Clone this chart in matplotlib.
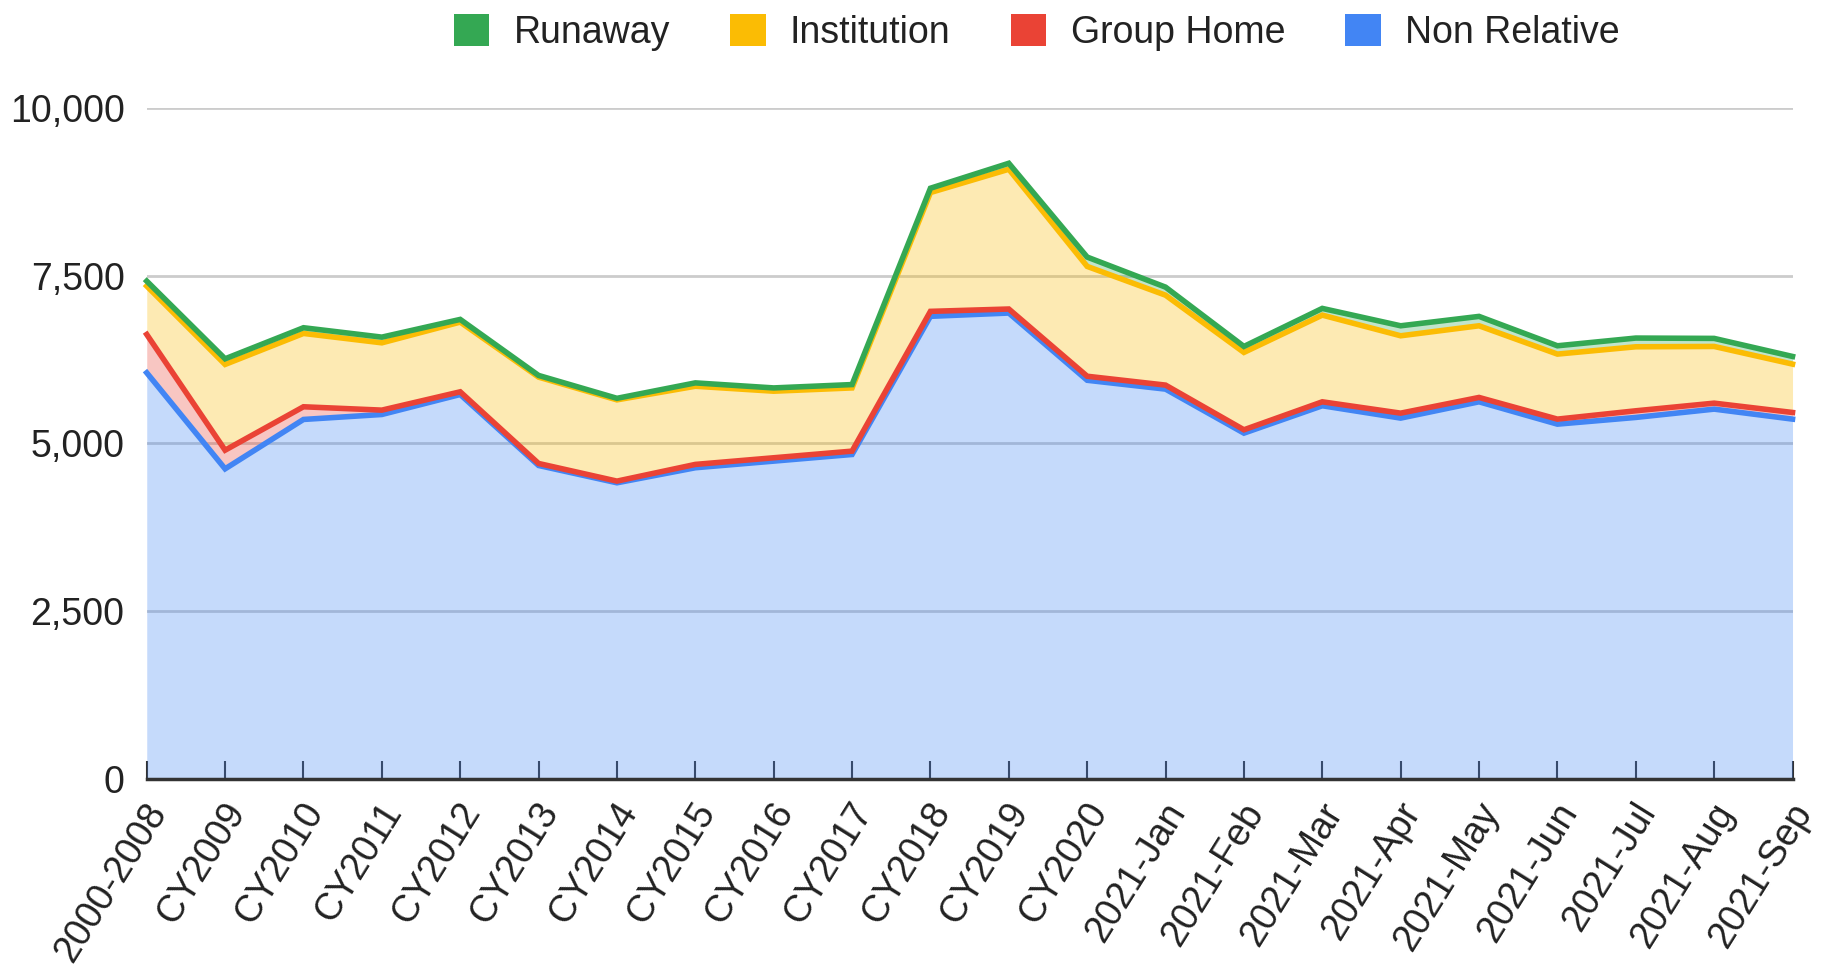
import numpy as np
from matplotlib import pyplot as plt
from matplotlib.patches import Patch
import matplotlib
import matplotlib.transforms as mtrans

matplotlib.rcParams['font.family'] = ['Liberation Sans', 'DejaVu Sans']

categories = ['2000-2008', 'CY2009', 'CY2010', 'CY2011', 'CY2012', 'CY2013', 'CY2014',
              'CY2015', 'CY2016', 'CY2017', 'CY2018', 'CY2019', 'CY2020',
              '2021-Jan', '2021-Feb', '2021-Mar', '2021-Apr', '2021-May', '2021-Jun',
              '2021-Jul', '2021-Aug', '2021-Sep']

non_relative = [6054, 4622, 5358, 5432, 5730, 4672, 4414, 4638, 4737, 4836, 6895,
                6944, 5942, 5810, 5154, 5562, 5378, 5621, 5288, 5388, 5512, 5363]
group_home = [571, 278, 189, 65, 40, 30, 25, 50, 50, 50, 74,
              60, 60, 60, 50, 59, 74, 65, 75, 99, 89, 99]
institution = [721, 1278, 1093, 1003, 1039, 1287, 1211, 1165, 992, 942, 1771,
               2083, 1637, 1340, 1153, 1292, 1153, 1068, 969, 954, 845, 721]
runaway = [74, 84, 85, 85, 40, 25, 23, 50, 49, 50, 64,
           89, 139, 120, 89, 100, 149, 140, 124, 130, 120, 114]

series_names = ['Non Relative', 'Group Home', 'Institution', 'Runaway']
series_colors = ['#4285F4', '#EA4335', '#FBBC04', '#34A853']

yticks = [0, 2500, 5000, 7500, 10000]
ytick_labels = ['0', '2,500', '5,000', '7,500', '10,000']

fig = plt.figure(figsize=(18.25, 9.72), dpi=100)
ax = fig.add_axes([0.0804, 0.1986, 0.9018, 0.6903])

x = np.arange(len(categories))
stack = np.vstack([non_relative, group_home, institution, runaway]).astype(float)
tops = np.cumsum(stack, axis=0)

# fills first, gridlines sit underneath
bottom = np.zeros(len(categories))
for i in range(4):
    ax.fill_between(x, bottom, tops[i], color=series_colors[i], alpha=0.3, lw=0, zorder=2)
    bottom = tops[i]
for i in range(4):
    ax.plot(x, tops[i], color=series_colors[i], lw=4, zorder=3 + i,
            solid_joinstyle='miter', clip_on=False)

ax.set_xlim(0, len(categories) - 1)
ax.set_ylim(0, 10000)
ax.set_yticks(yticks)
ax.set_yticklabels(ytick_labels)
ax.grid(axis='y', color='#cccccc', lw=2, zorder=1)
ax.set_axisbelow(True)

for s in ['top', 'right', 'left']:
    ax.spines[s].set_visible(False)
ax.spines['bottom'].set_color('#333333')
ax.spines['bottom'].set_linewidth(2.5)
ax.spines['bottom'].set_zorder(10)

ax.tick_params(axis='y', length=0, pad=16, labelsize=27, labelcolor='#222222')
ax.tick_params(axis='x', direction='in', length=13, width=1.5, color='#333333',
               pad=16, labelsize=27, labelcolor='#222222')
ax.set_xticks(x)
ax.set_xticklabels(categories, rotation=58, ha='right', va='center',
                   rotation_mode='anchor')
shift = mtrans.ScaledTranslation(12 / 100, -5 / 100, fig.dpi_scale_trans)
for lab in ax.get_xticklabels():
    lab.set_transform(lab.get_transform() + shift)

handles = [Patch(facecolor=series_colors[i], edgecolor='none') for i in [3, 2, 1, 0]]
labels = [series_names[i] for i in [3, 2, 1, 0]]
fig.legend(handles, labels, loc='center', bbox_to_anchor=(0.568, 0.967), ncol=4,
           frameon=False, fontsize=27, handlelength=0.95, handleheight=0.95,
           handletextpad=0.65, columnspacing=1.6, labelcolor='#222222')

fig.savefig('out.png', dpi=100)
